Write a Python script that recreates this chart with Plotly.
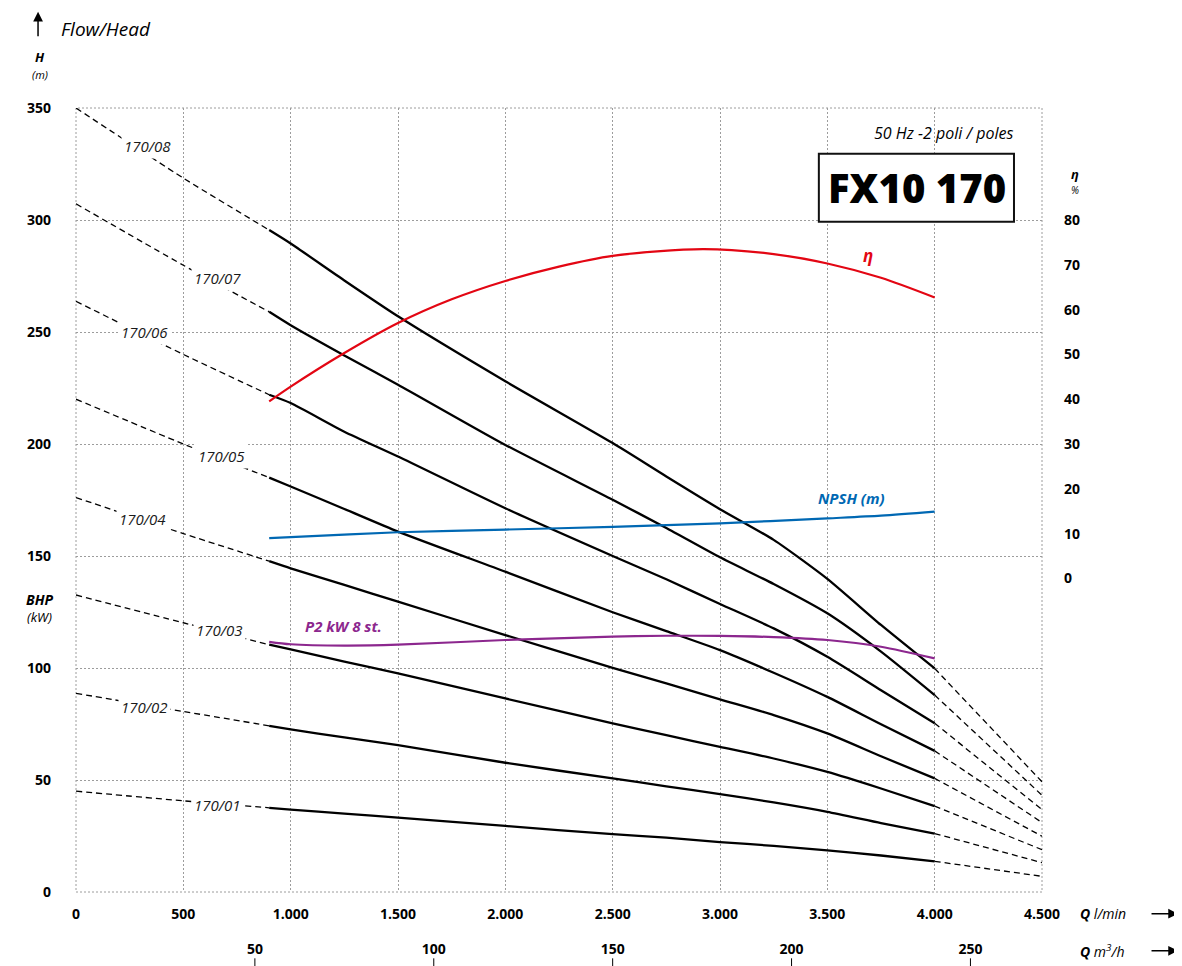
import plotly.graph_objects as go

# ---------------- data ----------------
STAGES = ["170/01", "170/02", "170/03", "170/04", "170/05", "170/06", "170/07", "170/08"]

Q_LEFT = [0, 500, 900]
Q_SOLID = [900, 1000, 1250, 1500, 2000, 2500, 2750, 3000, 3250, 3500, 3750, 4000]
Q_RIGHT = [4000, 4500]

H_LEFT = [
    [45.0, 40.7, 37.6],
    [88.7, 80.6, 74.2],
    [132.6, 120.2, 110.4],
    [176.1, 160.0, 147.7],
    [220.0, 200.0, 185.0],
    [263.7, 240.0, 222.0],
    [307.2, 279.8, 259.0],
    [350.0, 318.7, 295.5],
]
H_SOLID = [
    [37.6, 36.8, 35.0, 33.2, 29.5, 25.8, 24.3, 22.3, 20.6, 18.6, 16.3, 13.7],
    [74.2, 72.6, 69.0, 65.6, 57.7, 50.7, 47.2, 43.7, 40.0, 35.8, 30.8, 26.1],
    [110.4, 108.3, 102.8, 97.6, 86.4, 75.3, 70.0, 64.8, 59.6, 53.6, 46.2, 38.3],
    [147.7, 144.5, 137.1, 129.6, 114.7, 100.1, 93.1, 86.0, 79.0, 70.8, 60.6, 50.7],
    [185.0, 181.0, 171.0, 160.9, 143.0, 124.9, 116.5, 108.0, 97.9, 87.1, 74.9, 63.0],
    [222.0, 218.3, 205.5, 194.4, 171.3, 150.0, 139.6, 128.6, 117.7, 105.0, 90.1, 75.3],
    [259.0, 253.0, 239.5, 226.5, 199.6, 175.1, 162.5, 149.4, 137.5, 124.4, 107.3, 87.9],
    [295.5, 289.5, 273.0, 257.0, 228.0, 200.4, 185.5, 170.9, 157.2, 139.8, 119.2, 99.8],
]
H_RIGHT = [
    [13.7, 7.0],
    [26.1, 13.1],
    [38.3, 18.9],
    [50.7, 24.9],
    [63.0, 31.0],
    [75.3, 36.8],
    [87.9, 43.2],
    [99.8, 49.2],
]
# stage label anchor positions (Q l/min, H m)
LABEL_Q = [660, 321, 669, 312, 676, 317, 658, 331]
LABEL_H = [38.9, 82.4, 117.0, 166.5, 194.8, 250.1, 274.2, 333.2]

Q_ETA = [900, 1000, 1250, 1500, 1750, 2000, 2250, 2500, 2920, 3250, 3500, 3750, 4000]
ETA = [39.5, 42.8, 50.3, 57.0, 62.3, 66.4, 69.6, 72.0, 73.5, 72.4, 70.3, 67.1, 62.7]

Q_NPSH = [900, 1000, 1500, 2000, 2500, 3000, 3500, 3750, 4000]
NPSH = [9.0, 9.2, 10.3, 10.9, 11.5, 12.3, 13.4, 14.0, 14.9]

Q_P2 = [900, 1000, 1250, 1500, 2000, 2500, 2750, 3000, 3250, 3500, 3750, 4000]
P2 = [111.7, 110.6, 110.0, 110.4, 112.5, 114.0, 114.4, 114.3, 113.8, 112.5, 109.5, 104.3]

X_TICKS = [0, 500, 1000, 1500, 2000, 2500, 3000, 3500, 4000, 4500]
X_TICK_TEXT = ["0", "500", "1.000", "1.500", "2.000", "2.500", "3.000", "3.500", "4.000", "4.500"]
X2_TICKS = [50, 100, 150, 200, 250]
Y_TICKS = [0, 50, 100, 150, 200, 250, 300, 350]
ETA_TICKS = [0, 10, 20, 30, 40, 50, 60, 70, 80]

# ---------------- styling ----------------
FONT = "Open Sans"
RED = "#e30613"
BLUE = "#0068b3"
PURPLE = "#8c278e"
DASH = "6px,4px"
GRID_COLOR = "#9c9c9c"
GRID_DASH = "2px,2px"

fig = go.Figure()

for i, name in enumerate(STAGES):
    fig.add_trace(go.Scatter(x=Q_LEFT, y=H_LEFT[i], mode="lines",
                             line=dict(color="black", width=1.3, dash=DASH, shape="spline", smoothing=0.6),
                             showlegend=False, hoverinfo="skip"))
    fig.add_trace(go.Scatter(x=Q_SOLID, y=H_SOLID[i], mode="lines",
                             line=dict(color="black", width=2.3, shape="spline", smoothing=0.6),
                             showlegend=False, name=name))
    fig.add_trace(go.Scatter(x=Q_RIGHT, y=H_RIGHT[i], mode="lines",
                             line=dict(color="black", width=1.3, dash=DASH),
                             showlegend=False, hoverinfo="skip"))

fig.add_trace(go.Scatter(x=Q_P2, y=P2, mode="lines",
                         line=dict(color=PURPLE, width=2.2, shape="spline", smoothing=0.8),
                         showlegend=False, name="P2"))
fig.add_trace(go.Scatter(x=Q_ETA, y=ETA, mode="lines", yaxis="y2",
                         line=dict(color=RED, width=2.2, shape="spline", smoothing=0.8),
                         showlegend=False, name="eta"))
fig.add_trace(go.Scatter(x=Q_NPSH, y=NPSH, mode="lines", yaxis="y2",
                         line=dict(color=BLUE, width=2.2, shape="spline", smoothing=0.8),
                         showlegend=False, name="NPSH"))
# invisible trace to activate the m3/h axis
fig.add_trace(go.Scatter(x=[X2_TICKS[0]], y=[0], xaxis="x2", mode="markers",
                         marker=dict(opacity=0), showlegend=False, hoverinfo="skip"))

tickfont = dict(family=FONT, size=14, color="black", weight="bold")
grid = dict(showgrid=True, gridcolor=GRID_COLOR, gridwidth=1, griddash=GRID_DASH,
            zeroline=False, showline=False, ticks="")

# the page adds an 8px body margin, so the figure is 8px smaller and margins shifted
fig.update_layout(
    width=1174, height=958,
    margin=dict(l=68, r=140, t=100, b=74, autoexpand=False),
    paper_bgcolor="white", plot_bgcolor="white",
    xaxis=dict(range=[0, 4500], tickvals=X_TICKS, ticktext=X_TICK_TEXT,
               tickfont=tickfont, ticklabelstandoff=12, **grid),
    xaxis2=dict(range=[0, 4500 * 0.06], overlaying="x", side="bottom", anchor="y",
                tickvals=X2_TICKS, tickfont=tickfont, ticklabelstandoff=47,
                showgrid=False, zeroline=False, showline=False, ticks=""),
    yaxis=dict(range=[0, 350], tickvals=Y_TICKS, tickfont=tickfont,
               ticklabelstandoff=24, **grid),
    yaxis2=dict(range=[-70, 105], overlaying="y", side="right", tickvals=ETA_TICKS,
                tickfont=tickfont, ticklabelstandoff=21, showgrid=False,
                zeroline=False, showline=False, ticks=""),
)

# dotted frame (edge grid lines)
fig.add_shape(type="rect", xref="paper", yref="paper", x0=0, x1=1, y0=0, y1=1,
              line=dict(color=GRID_COLOR, width=1, dash=GRID_DASH), layer="below")

# m3/h tick marks below its labels
for v in X2_TICKS:
    fig.add_shape(type="line", xref="x2", yref="paper", x0=v, x1=v, y0=-0.0846, y1=-0.0948,
                  line=dict(color="black", width=1))

# frame around model name
fig.add_shape(type="rect", xref="paper", yref="paper", x0=0.769, x1=0.971, y0=0.855, y1=0.9417,
              line=dict(color="#111", width=2), fillcolor="white", layer="above")

ann = []
for i, name in enumerate(STAGES):
    ann.append(dict(x=LABEL_Q[i], y=LABEL_H[i], xref="x", yref="y", text=name, showarrow=False,
                    font=dict(family=FONT, size=15, color="#1a1a1a", style="italic"),
                    bgcolor="white", borderpad=2))

def P(text, xp, yp, size=13, color="black", weight="normal", style="italic", xa="center", ya="middle"):
    ann.append(dict(x=xp, y=yp, xref="paper", yref="paper", text=text, showarrow=False,
                    xanchor=xa, yanchor=ya,
                    font=dict(family=FONT, size=size, color=color, weight=weight, style=style)))

P("Flow/Head", -0.0176, 1.1012, size=19, xa="left")
P("H", -0.0373, 1.0650, size=13, weight="bold")
P("(m)", -0.0373, 1.0430, size=11)
P("BHP", -0.0373, 0.3735, size=14, weight="bold")
P("(kW)", -0.0373, 0.3505, size=13)
P("η", 1.0342, 0.9160, size=13, weight="bold")
P("%", 1.0342, 0.8950, size=10)
P("50 Hz -2 poli / poles", 0.9720, 0.9685, size=16, xa="right")
P("FX10 170", 0.8701, 0.8983, size=40, weight=900, style="normal")
P("η", 0.8199, 0.8115, size=17, color=RED, weight="bold")
P("NPSH (m)", 0.8023, 0.5026, size=15, color=BLUE, weight="bold")
P("P2 kW 8 st.", 0.2764, 0.3394, size=15, color=PURPLE, weight="bold")
P("<b>Q</b> l/min", 1.0373, -0.0277, size=14, xa="left")
P("<b>Q</b> m<sup>3</sup>/h", 1.0373, -0.0750, size=14, xa="left")

# arrows
ann.append(dict(x=-0.0393, y=1.1229, xref="paper", yref="paper", text="", showarrow=True,
                ax=0, ay=26, arrowhead=2, arrowsize=1.3, arrowwidth=1.5, arrowcolor="black"))
for yp in (-0.0277, -0.0750):
    ann.append(dict(x=1.1408, y=yp, xref="paper", yref="paper", text="", showarrow=True,
                    ax=-28, ay=0, arrowhead=2, arrowsize=1.3, arrowwidth=1.5, arrowcolor="black"))

fig.update_layout(annotations=ann)
fig.write_html("out.html")
